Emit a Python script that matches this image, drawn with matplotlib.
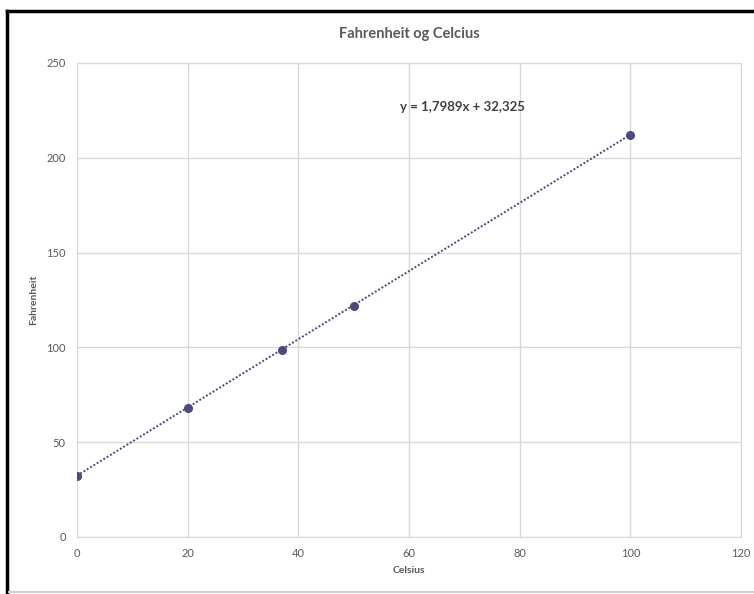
import matplotlib.pyplot as plt
from matplotlib.lines import Line2D

# data
celsius = [0, 20, 37, 50, 100]
fahrenheit = [32, 68, 98.6, 122, 212]
slope = 1.7989
intercept = 32.325
x_ticks = [0, 20, 40, 60, 80, 100, 120]
y_ticks = [0, 50, 100, 150, 200, 250]

plt.rcParams['font.family'] = ['Lato', 'DejaVu Sans']
grey = "#595959"

fig = plt.figure(figsize=(7.54, 5.94), dpi=100)
ax = fig.add_axes([0.102, 0.096, 0.881, 0.798])

# trendline from the fitted equation
trend_x = [min(celsius), max(celsius)]
trend_y = [slope * x + intercept for x in trend_x]
ax.plot(trend_x, trend_y, color="#4a4a78", linestyle=(0, (1, 1)), linewidth=1.4, zorder=2)
ax.plot(celsius, fahrenheit, "o", color="#4b4b82", markersize=5.5, zorder=3)

ax.set_xlim(0, 120)
ax.set_ylim(0, 250)
ax.set_xticks(x_ticks)
ax.set_yticks(y_ticks)
ax.grid(True, color="#d9d9d9", linewidth=1)
ax.set_axisbelow(True)
for s in ax.spines.values():
    s.set_color("#d9d9d9")
ax.tick_params(length=0, labelsize=8, colors=grey, pad=8)

ax.set_title("Fahrenheit og Celcius", fontsize=10.5, fontweight="bold", color=grey, pad=18)
ax.set_xlabel("Celsius", fontsize=7.5, fontweight="bold", color=grey, labelpad=5)
ax.set_ylabel("Fahrenheit", fontsize=7.5, fontweight="bold", color=grey, labelpad=6)

ax.text(69.7, 227, "y = 1,7989x + 32,325", fontsize=9.5, fontweight="bold",
        color="#404040", ha="center", va="center")

# screenshot frame
fig.add_artist(Line2D([0.009, 1.0], [0.981, 0.981], color="black", linewidth=2.5,
                      transform=fig.transFigure))
fig.add_artist(Line2D([0.009, 0.009], [0.0, 0.981], color="black", linewidth=2.5,
                      transform=fig.transFigure))
fig.add_artist(Line2D([0.012, 1.0], [0.004, 0.004], color="#d0d0d0", linewidth=1.5,
                      transform=fig.transFigure))

fig.savefig("out.png", dpi=100)
